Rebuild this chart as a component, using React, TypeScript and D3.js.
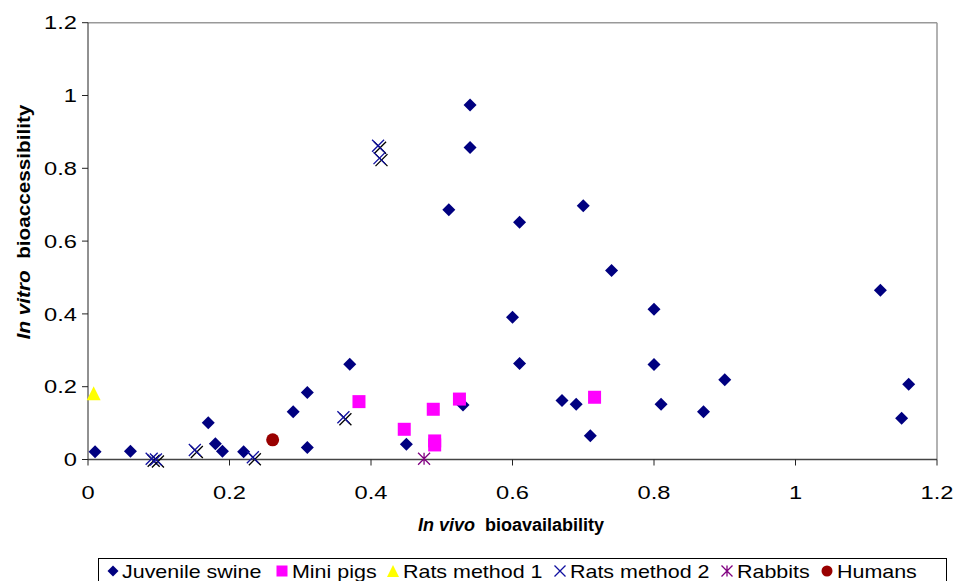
import React from "react";
import * as d3 from "d3";

const swineX = [0.01, 0.06, 0.17, 0.18, 0.19, 0.22, 0.29, 0.31, 0.31, 0.37, 0.45, 0.53, 0.54, 0.54, 0.51, 0.61, 0.70, 0.74, 0.60, 0.61, 0.67, 0.69, 0.71, 0.80, 0.80, 0.81, 0.87, 0.90, 1.12, 1.16, 1.15];
const swineY = [0.021, 0.023, 0.101, 0.043, 0.023, 0.021, 0.131, 0.184, 0.033, 0.262, 0.042, 0.150, 0.974, 0.857, 0.686, 0.652, 0.697, 0.519, 0.391, 0.264, 0.162, 0.152, 0.065, 0.413, 0.261, 0.152, 0.131, 0.219, 0.465, 0.207, 0.113];
const miniX = [0.383, 0.447, 0.488, 0.49, 0.49, 0.525, 0.716];
const miniY = [0.159, 0.083, 0.138, 0.051, 0.040, 0.166, 0.171];
const rats1X = [0.008];
const rats1Y = [0.182];
const rats2X = [0.09, 0.096, 0.151, 0.233, 0.361, 0.41, 0.412];
const rats2Y = [0.002, 0.0, 0.026, 0.006, 0.116, 0.862, 0.828];
const rabbitX = [0.475];
const rabbitY = [0.002];
const humanX = [0.261];
const humanY = [0.054];
const ticks = [0, 0.2, 0.4, 0.6, 0.8, 1, 1.2];
const legendLabels = ["Juvenile swine", "Mini pigs", "Rats method 1", "Rats method 2", "Rabbits", "Humans"];

const FONT = "'Liberation Sans', Arial, sans-serif";
const NAVY = "#000080";

function Diamond({ x, y, r = 6.5 }: { x: number; y: number; r?: number }) {
  return <path d={`M${x},${y - r}L${x + r},${y}L${x},${y + r}L${x - r},${y}Z`} fill={NAVY} />;
}
function Square({ x, y, s = 6.5 }: { x: number; y: number; s?: number }) {
  return <rect x={x - s} y={y - s} width={2 * s} height={2 * s} fill="#FF00FF" />;
}
function Tri({ x, y, s = 7 }: { x: number; y: number; s?: number }) {
  return <path d={`M${x},${y - s}L${x + s},${y + s}L${x - s},${y + s}Z`} fill="#FFFF00" />;
}
function XMark({ x, y, s = 6, shadow = true }: { x: number; y: number; s?: number; shadow?: boolean }) {
  const p = (cx: number, cy: number) => `M${cx - s},${cy - s}L${cx + s},${cy + s}M${cx - s},${cy + s}L${cx + s},${cy - s}`;
  return (
    <g fill="none" strokeWidth={1.3}>
      {shadow && <path d={p(x + 2, y + 2)} stroke="#000" />}
      <path d={p(x, y)} stroke="#1010a0" />
    </g>
  );
}
function Star({ x, y, s = 6 }: { x: number; y: number; s?: number }) {
  return (
    <path
      d={`M${x - s},${y - s}L${x + s},${y + s}M${x - s},${y + s}L${x + s},${y - s}M${x},${y - s}L${x},${y + s}`}
      stroke="#800080"
      strokeWidth={1.3}
      fill="none"
    />
  );
}
function Circle({ x, y, r = 6.5 }: { x: number; y: number; r?: number }) {
  return <circle cx={x} cy={y} r={r} fill="#990000" />;
}

export default function App() {
  const W = 954, H = 581;
  const x = d3.scaleLinear().domain([0, 1.2]).range([88, 937]);
  const y = d3.scaleLinear().domain([0, 1.2]).range([459.5, 22.7]);
  const fmt = (v: number) => (v === 0 ? "0" : v === 1 ? "1" : d3.format(".1f")(v));
  const TF = 18.5; // tick font
  const TS = 1.28; // horizontal stretch of tick labels

  const legendMarkX = [113, 282, 393, 560, 727, 827];
  const legendTextX = [122, 292, 403, 570, 737, 837];
  const ly = 571;

  return (
    <svg width={W} height={H} style={{ position: "absolute", left: 0, top: 0, background: "#fff" }} fontFamily={FONT}>
      <rect x={0} y={0} width={W} height={H} fill="#fff" />
      {/* plot border */}
      <line x1={x(0)} x2={x(1.2)} y1={y(1.2)} y2={y(1.2)} stroke="#999" strokeWidth={1.5} />
      <line x1={x(1.2)} x2={x(1.2)} y1={y(1.2)} y2={y(0)} stroke="#999" strokeWidth={1.5} />
      {/* axes */}
      <line x1={x(0)} x2={x(0)} y1={y(1.2)} y2={y(0)} stroke="#222" strokeWidth={1} />
      <line x1={x(0)} x2={x(1.2)} y1={y(0)} y2={y(0)} stroke="#444" strokeWidth={1.5} />
      {ticks.map((t) => (
        <g key={"y" + t}>
          <line x1={x(0) - 6} x2={x(0)} y1={y(t)} y2={y(t)} stroke="#222" />
          <text transform={`translate(77,${y(t) + 6.6}) scale(${TS},1)`} textAnchor="end" fontSize={TF} fill="#000">{fmt(t)}</text>
        </g>
      ))}
      {ticks.map((t) => (
        <g key={"x" + t}>
          <line x1={x(t)} x2={x(t)} y1={y(0)} y2={y(0) + 6} stroke="#222" />
          <text transform={`translate(${x(t)},498.5) scale(${TS},1)`} textAnchor="middle" fontSize={TF} fill="#000">{fmt(t)}</text>
        </g>
      ))}
      {/* axis titles */}
      <text x={511} y={531} textAnchor="middle" fontSize={18} fontWeight="bold" fill="#000">
        <tspan fontStyle="italic">In vivo</tspan>
        <tspan>{"\u00a0 bioavailability"}</tspan>
      </text>
      <text transform={`translate(30,222) rotate(-90) scale(1.12,1)`} textAnchor="middle" fontSize={18.5} fontWeight="bold" fill="#000">
        <tspan fontStyle="italic">In vitro</tspan>
        <tspan>{"\u00a0 bioaccessibility"}</tspan>
      </text>
      {/* data */}
      {swineX.map((v, i) => <Diamond key={"s" + i} x={x(v)} y={y(swineY[i])} />)}
      {rats2X.map((v, i) => <XMark key={"r2" + i} x={x(v)} y={y(rats2Y[i])} />)}
      {miniX.map((v, i) => <Square key={"m" + i} x={x(v)} y={y(miniY[i])} />)}
      {rats1X.map((v, i) => <Tri key={"r1" + i} x={x(v)} y={y(rats1Y[i])} />)}
      {rabbitX.map((v, i) => <Star key={"rb" + i} x={x(v)} y={y(rabbitY[i])} />)}
      {humanX.map((v, i) => <Circle key={"h" + i} x={x(v)} y={y(humanY[i])} />)}
      {/* legend */}
      <rect x={98.5} y={558.5} width={848} height={40} fill="#fff" stroke="#000" strokeWidth={1} />
      <Diamond x={legendMarkX[0]} y={ly} r={5.5} />
      <Square x={legendMarkX[1]} y={ly} s={5.5} />
      <Tri x={legendMarkX[2]} y={ly} s={6} />
      <XMark x={legendMarkX[3]} y={ly} s={5.5} shadow={false} />
      <Star x={legendMarkX[4]} y={ly} s={5.5} />
      <Circle x={legendMarkX[5]} y={ly} r={5.5} />
      {legendLabels.map((l, i) => (
        <text key={l} transform={`translate(${legendTextX[i]},578) scale(1.16,1)`} fontSize={18.5} fill="#000">{l}</text>
      ))}
    </svg>
  );
}
